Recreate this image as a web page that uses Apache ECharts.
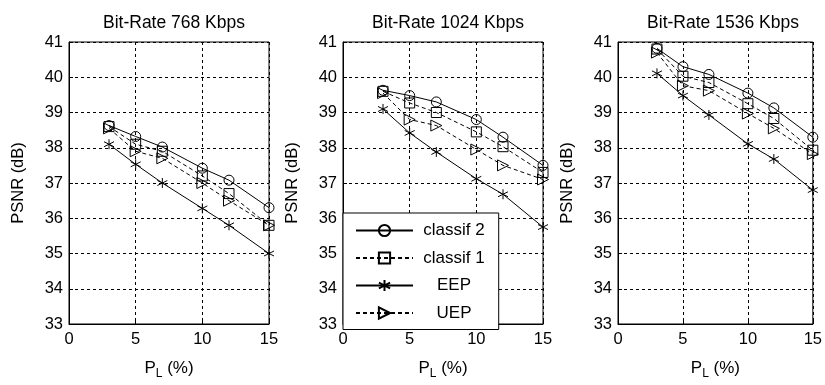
<!DOCTYPE html>
<html><head><meta charset="utf-8">
<script src="https://cdn.jsdelivr.net/npm/echarts@6/dist/echarts.min.js"></script>
<style>html,body{margin:0;padding:0;background:#fff}#c{width:825px;height:385px}</style>
</head><body><div id="c"></div>
<script>
const pl = [3, 5, 7, 10, 12, 15];
const titles = ['Bit-Rate 768 Kbps', 'Bit-Rate 1024 Kbps', 'Bit-Rate 1536 Kbps'];
const seriesNames = ['classif 2', 'classif 1', 'EEP', 'UEP'];
const xTicks = [0, 5, 10, 15];
const yTicks = [33, 34, 35, 36, 37, 38, 39, 40, 41];
// panel 1: 768 Kbps
const c2_768 = [38.63, 38.32, 38.02, 37.42, 37.08, 36.3];
const c1_768 = [38.6, 38.1, 37.9, 37.2, 36.7, 35.8];
const eep_768 = [38.1, 37.53, 37.0, 36.28, 35.8, 35.0];
const uep_768 = [38.55, 37.9, 37.7, 37.0, 36.5, 35.8];
// panel 2: 1024 Kbps
const c2_1024 = [39.63, 39.48, 39.3, 38.8, 38.3, 37.5];
const c1_1024 = [39.6, 39.27, 39.0, 38.45, 38.03, 37.3];
const eep_1024 = [39.1, 38.42, 37.88, 37.12, 36.68, 35.75];
const uep_1024 = [39.55, 38.8, 38.63, 37.95, 37.5, 37.1];
// panel 3: 1536 Kbps
const c2_1536 = [40.82, 40.3, 40.08, 39.55, 39.13, 38.3];
const c1_1536 = [40.8, 40.03, 39.85, 39.25, 38.83, 37.93];
const eep_1536 = [40.11, 39.48, 38.93, 38.11, 37.68, 36.8];
const uep_1536 = [40.7, 39.76, 39.62, 38.97, 38.55, 37.82];

const panels = [
  [c2_768, c1_768, eep_768, uep_768],
  [c2_1024, c1_1024, eep_1024, uep_1024],
  [c2_1536, c1_1536, eep_1536, uep_1536]
];

const FONT = 'Liberation Sans';
const gridLefts = [69, 343, 618];
const GW = 200, GT = 42, GH = 288;

const styles = [
  {symbol: 'circle', size: 10, dash: 'solid', rot: 0},
  {symbol: 'rect', size: 10, dash: [4, 3], rot: 0},
  {symbol: 'path://M0,-10L0,10M-8.66,-5L8.66,5M-8.66,5L8.66,-5', size: 10, dash: 'solid', rot: 0},
  {symbol: 'triangle', size: 11, dash: [4, 3], rot: -90}
];

const grid = [], xAxis = [], yAxis = [], series = [], title = [];
gridLefts.forEach((l, i) => {
  grid.push({left: l, top: GT, width: GW, height: GH, show: true, borderColor: '#000', borderWidth: 1, backgroundColor: '#fff'});
  title.push({text: titles[i], left: l + GW / 2, top: 9, textAlign: 'center',
    textStyle: {fontFamily: FONT, fontSize: 17.5, fontWeight: 'normal', color: '#000'}});
  xAxis.push({gridIndex: i, type: 'value', min: xTicks[0], max: xTicks[xTicks.length - 1], interval: 5,
    name: '{a|P}{s|L}{a| (%)}', nameLocation: 'middle', nameGap: 32,
    nameTextStyle: {rich: {a: {fontFamily: FONT, fontSize: 17, color: '#000'}, s: {fontFamily: FONT, fontSize: 12, color: '#000', padding: [12, 0, 0, 0]}}},
    axisLine: {lineStyle: {color: '#000', width: 1}},
    axisTick: {inside: true, length: 4, lineStyle: {color: '#000'}},
    axisLabel: {fontFamily: FONT, fontSize: 16.5, color: '#000', margin: 7},
    splitLine: {show: true, lineStyle: {color: '#000', type: [3, 3], width: 1}}
  });
  yAxis.push({gridIndex: i, type: 'value', min: yTicks[0], max: yTicks[yTicks.length - 1], interval: 1,
    name: 'PSNR (dB)', nameLocation: 'middle', nameGap: 42,
    nameTextStyle: {fontFamily: FONT, fontSize: 16.5, color: '#000'},
    axisLine: {show: true, lineStyle: {color: '#000', width: 1}},
    axisTick: {inside: true, length: 4, lineStyle: {color: '#000'}},
    axisLabel: {fontFamily: FONT, fontSize: 16.5, color: '#000', margin: 6},
    splitLine: {show: true, lineStyle: {color: '#000', type: [3, 3], width: 1}}
  });
  panels[i].forEach((vals, k) => {
    const st = styles[k];
    series.push({
      name: seriesNames[k], type: 'line', xAxisIndex: i, yAxisIndex: i,
      data: pl.map((x, j) => [x, vals[j]]),
      symbol: st.symbol, symbolSize: st.size, symbolRotate: st.rot, showAllSymbol: true,
      color: '#000',
      lineStyle: {color: '#000', width: 1, type: st.dash},
      itemStyle: {color: 'rgba(0,0,0,0)', borderColor: '#000', borderWidth: 1},
      emphasis: {disabled: true}, animation: false, z: 3
    });
  });
});

const chart = echarts.init(document.getElementById('c'), null, {renderer: 'canvas'});
chart.setOption({
  animation: false,
  title: title,
  grid: grid, xAxis: xAxis, yAxis: yAxis, series: series,
  legend: {
    data: seriesNames, orient: 'vertical', left: 343, top: 213,
    backgroundColor: '#fff', borderColor: '#000', borderWidth: 1,
    padding: [9, 14, 8, 12], itemWidth: 57, itemHeight: 14, itemGap: 10.5,
    selectedMode: false, z: 10,
    formatter: n => '{c|' + n + '}',
    textStyle: {rich: {c: {fontFamily: FONT, fontSize: 17, color: '#000', width: 72, align: 'center'}}}
  }
});
</script></body></html>
